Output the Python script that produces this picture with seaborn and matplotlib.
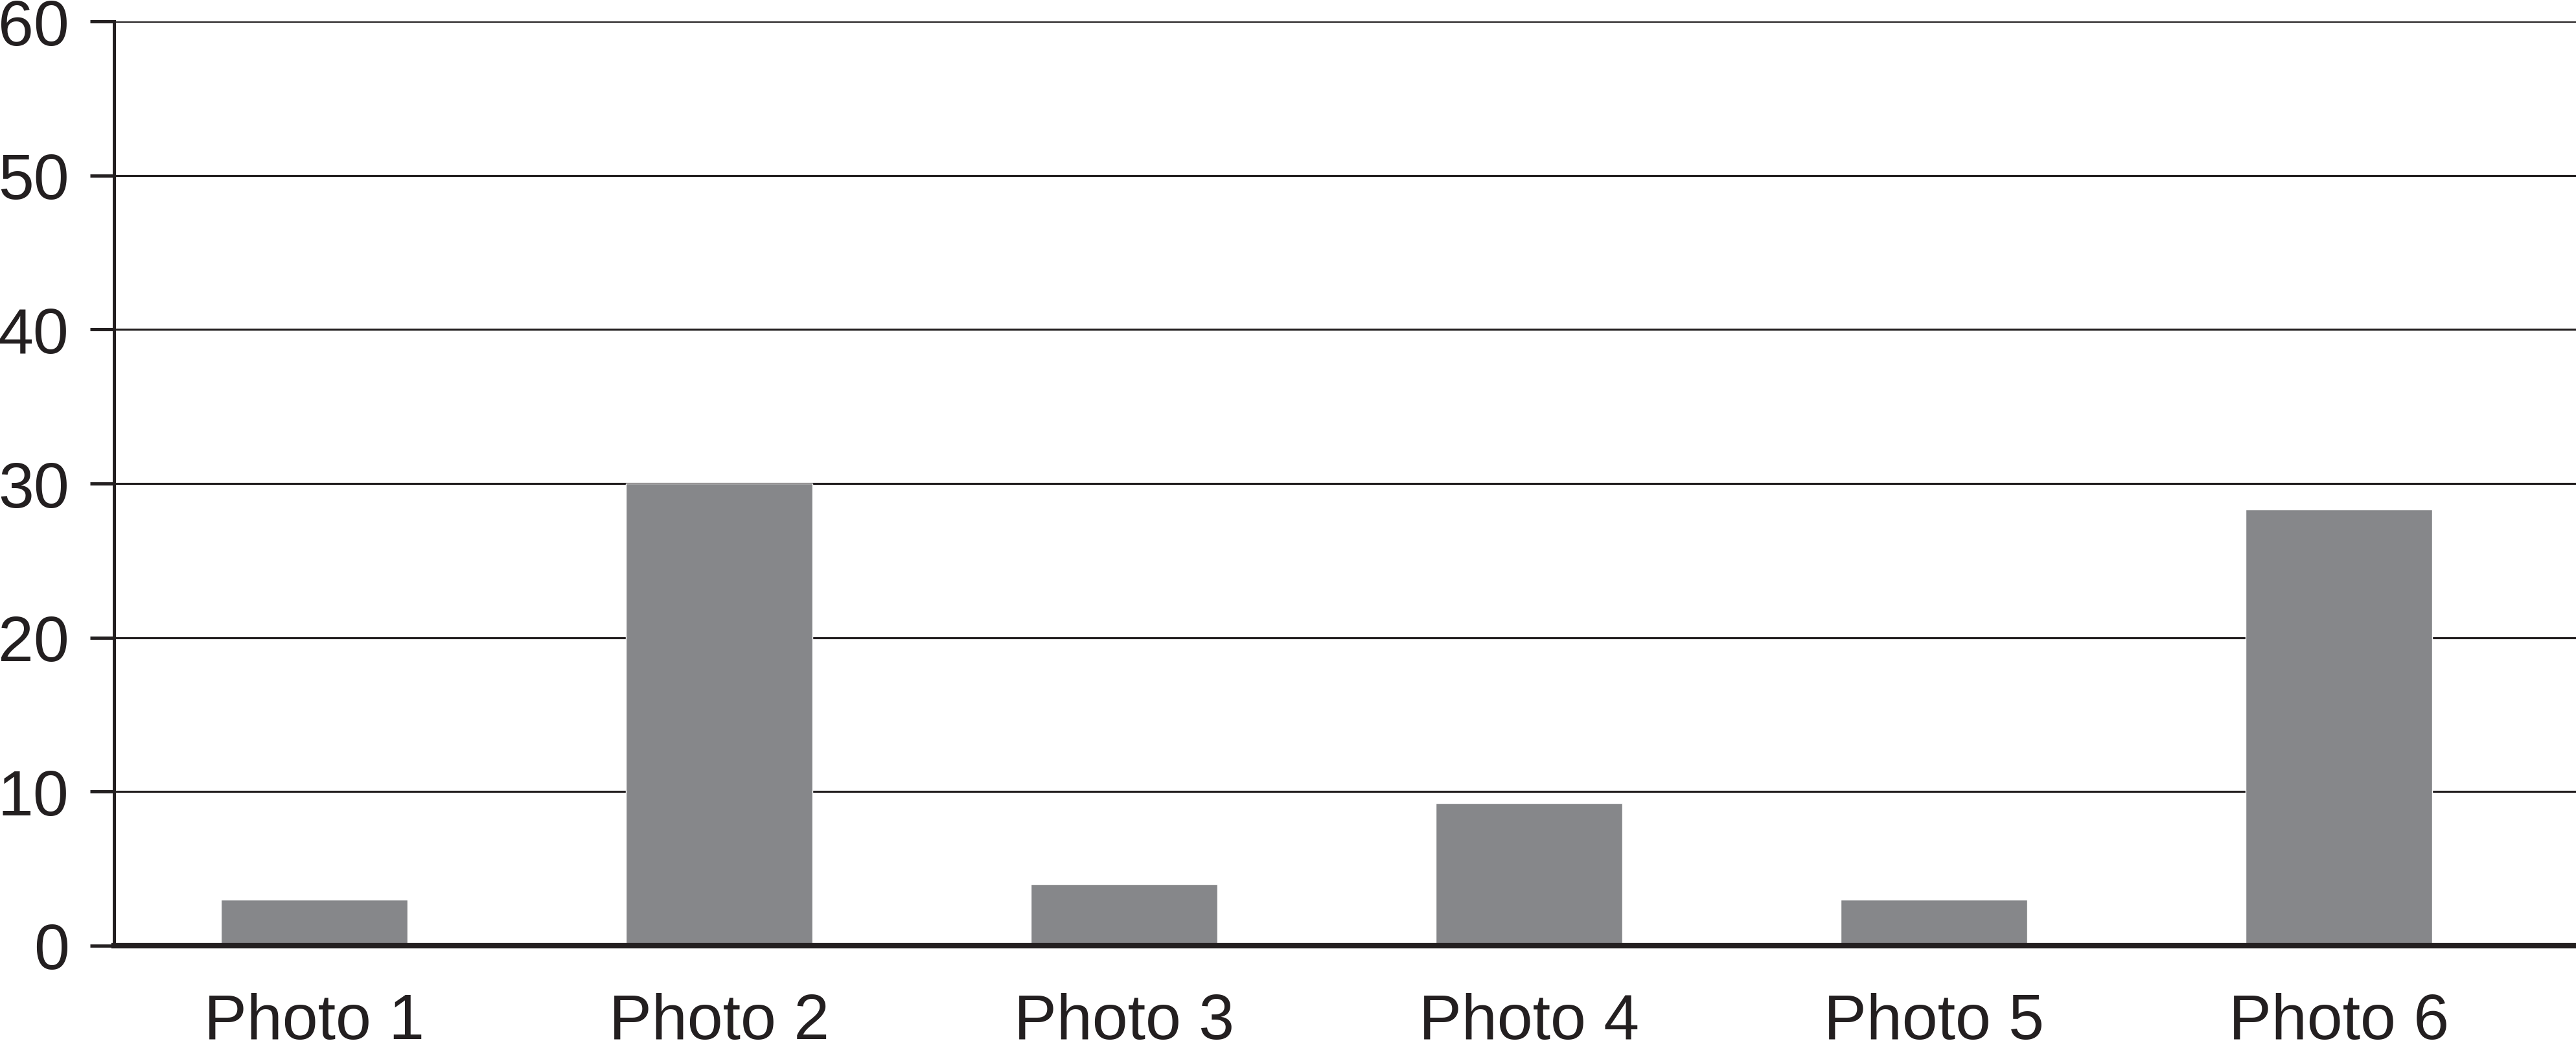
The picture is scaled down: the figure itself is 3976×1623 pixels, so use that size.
import matplotlib
matplotlib.use("Agg")
import matplotlib.pyplot as plt
import seaborn as sns
import pandas as pd

# %% Data
photos = ["Photo 1", "Photo 2", "Photo 3", "Photo 4", "Photo 5", "Photo 6"]
counts = [3, 30, 4, 9.25, 3, 28.3]
y_ticks = [0, 10, 20, 30, 40, 50, 60]

df = pd.DataFrame({"photo": photos, "count": counts})

# %% Plot
sns.set_style("white")
plt.rcParams['font.family'] = ['Liberation Sans', 'DejaVu Sans']

fig = plt.figure(figsize=(39.76, 16.24), dpi=100)
ax = fig.add_axes([0.0443, 0.101, 0.9557, 0.878])

sns.barplot(data=df, x="photo", y="count", color="#86878a", saturation=1,
            width=0.46, ax=ax, zorder=3)

ax.set_ylim(0, 60)
ax.set_xlim(-0.494, 5.586)
ax.set_yticks(y_ticks)
ax.set_yticklabels([str(t) for t in y_ticks])
ax.yaxis.grid(True, color="#231f20", linewidth=2.3)
ax.set_axisbelow(True)
ax.set_xlabel("")
ax.set_ylabel("")

ax.spines[['top', 'right']].set_visible(False)
ax.spines['left'].set_linewidth(3.6)
ax.spines['left'].set_color("#231f20")
ax.spines['bottom'].set_linewidth(6)
ax.spines['bottom'].set_color("#231f20")
ax.spines['bottom'].set_zorder(4)

ax.tick_params(axis='y', direction='out', length=27, width=3.6, color="#231f20",
               labelsize=71, pad=23, labelcolor="#231f20", left=True)
ax.tick_params(axis='x', length=0, labelsize=71, pad=52, labelcolor="#231f20")

fig.savefig("out.png", dpi=100)
